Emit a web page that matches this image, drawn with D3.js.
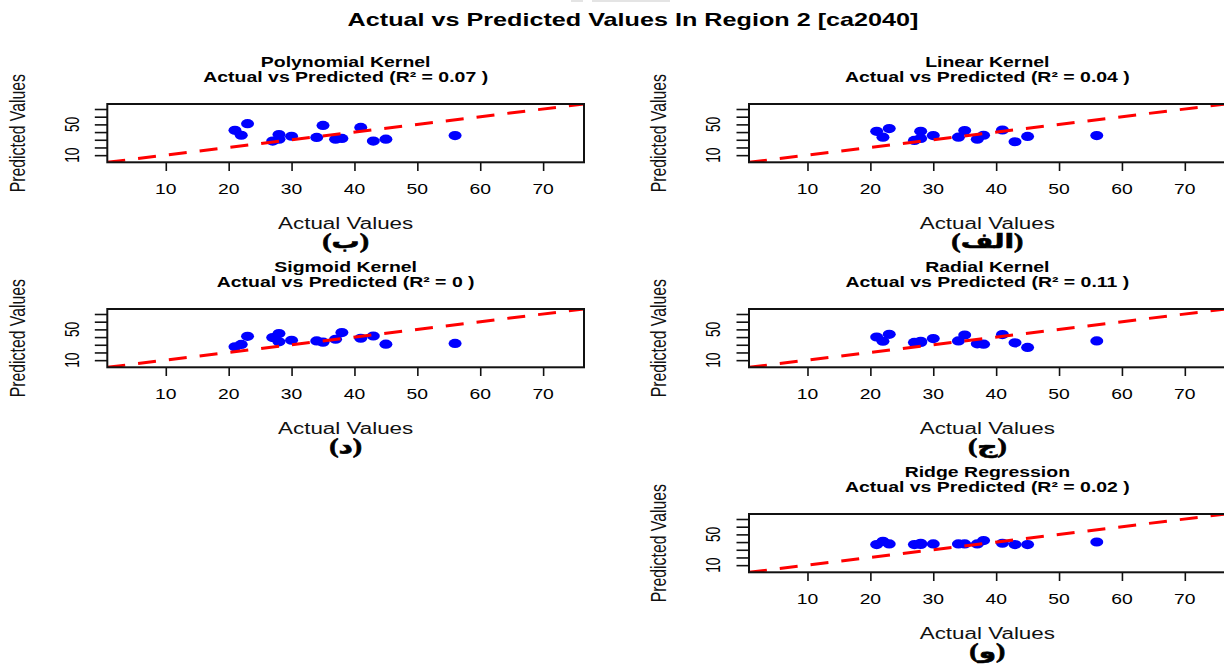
<!DOCTYPE html>
<html>
<head>
<meta charset="utf-8">
<script src="https://cdn.jsdelivr.net/npm/d3@7"></script>
<style>
  html, body { margin: 0; padding: 0; background: #fff; overflow: hidden; }
  svg { display: block; }
</style>
</head>
<body>
<svg id="chart" width="1224" height="665"></svg>
<script>
// ---- data ---------------------------------------------------------------
const mainTitle = "Actual vs Predicted Values In Region 2 [ca2040]";
const actual = [21, 22, 23, 27, 28, 28, 30, 34, 35, 37, 38, 41, 43, 45, 56];

const predPolynomial = [42.3, 35.9, 50.9, 28.3, 36.8, 30.8, 34.6, 33.0, 48.7, 30.8, 31.7, 46.1, 28.3, 30.8, 35.5];
const predLinear     = [41.0, 33.4, 44.5, 29.2, 41.0, 31.7, 35.5, 33.4, 41.9, 30.8, 35.9, 42.7, 27.4, 34.3, 35.5];
const predSigmoid    = [27.4, 30.4, 41.0, 39.4, 44.5, 33.8, 35.9, 35.0, 33.4, 37.2, 45.8, 38.5, 41.4, 30.8, 31.7];
const predRadial     = [40.1, 34.6, 43.6, 33.0, 34.6, 33.0, 38.1, 35.0, 42.7, 31.2, 30.8, 43.2, 32.5, 26.6, 35.0];
const predRidge      = [36.8, 41.0, 37.6, 36.8, 38.5, 37.0, 37.6, 37.6, 37.6, 37.6, 41.9, 38.5, 36.8, 36.8, 40.1];

const modelNames = ["Polynomial Kernel", "Linear Kernel", "Sigmoid Kernel", "Radial Kernel", "Ridge Regression"];
const rSquared   = ["0.07", "0.04", "0", "0.11", "0.02"];
const panelTags  = ["(ب)", "(الف)", "(د)", "(ج)", "(و)"];
const predictions = [predPolynomial, predLinear, predSigmoid, predRadial, predRidge];

const xTicks = [10, 20, 30, 40, 50, 60, 70];
const yTicks = [10, 20, 30, 40, 50, 60, 70];
const yTickLabels = [10, 50];
const axisLimits = [0.7, 76.5];

// ---- layout ---------------------------------------------------------------
const SX = 1.4;                       // horizontal stretch of the whole figure
const FONT = "'Liberation Sans', Arial, Helvetica, sans-serif";
const ARABIC_FONT = "'Liberation Serif', 'DejaVu Sans', serif";
const box = { left: 107.3, top: 104, width: 476.7, height: 58.3, colStep: 641.7, rowStep: 205 };
const gridPos = [[0, 0], [0, 1], [1, 0], [1, 1], [2, 1]];   // [row, col] of each model

const svg = d3.select("#chart");
svg.append("rect").attr("width", 1224).attr("height", 665).attr("fill", "#fff");

// thin grey strip at the very top edge
svg.append("rect").attr("x", 571).attr("y", 0).attr("width", 12).attr("height", 2).attr("fill", "#e4e4e4");
svg.append("rect").attr("x", 592).attr("y", 0).attr("width", 78).attr("height", 2).attr("fill", "#e4e4e4");

function label(g, x, y, str, size, opts = {}) {
  const t = g.append("text")
    .attr("transform", `translate(${x},${y}) scale(${SX},1)` + (opts.rotate ? " rotate(-90)" : ""))
    .attr("text-anchor", "middle")
    .attr("font-family", opts.family || FONT)
    .attr("font-size", size)
    .attr("font-weight", opts.bold ? "bold" : "normal")
    .attr("fill", opts.fill || "#000")
    .text(str);
  if (opts.dy) t.attr("dy", opts.dy);
  if (opts.stroke) t.attr("stroke", opts.fill || "#000").attr("stroke-width", opts.stroke);
  return t;
}

label(svg, 633, 26, mainTitle, 18, { bold: true });

modelNames.forEach((name, i) => {
  const [row, col] = gridPos[i];
  const x0 = box.left + col * box.colStep;
  const y0 = box.top + row * box.rowStep;
  const x1 = x0 + box.width;
  const y1 = y0 + box.height;
  const cx = (x0 + x1) / 2;

  const x = d3.scaleLinear().domain(axisLimits).range([x0, x1]);
  const y = d3.scaleLinear().domain(axisLimits).range([y1, y0]);

  const g = svg.append("g");

  // titles
  label(g, cx, y0 - 37, name, 13.9, { bold: true });
  label(g, cx, y0 - 22, `Actual vs Predicted (R² = ${rSquared[i]} )`, 13.9, { bold: true });

  // axes ticks
  const yAxis = g.append("g").attr("transform", `translate(${x0},0)`)
    .call(d3.axisLeft(y).tickValues(yTicks).tickSize(12.5).tickFormat(""));
  const xAxis = g.append("g").attr("transform", `translate(0,${y1})`)
    .call(d3.axisBottom(x).tickValues(xTicks).tickSize(8.7).tickFormat(""));
  [yAxis, xAxis].forEach(a => {
    a.select(".domain").remove();
    a.selectAll(".tick line").attr("stroke", "#111").attr("stroke-width", 1.6);
  });

  // tick labels
  xTicks.forEach(v => label(g, x(v), y1 + 31.6, String(v), 13.8));
  yTickLabels.forEach(v => label(g, x0 - 35.6, y(v), String(v), 13.8, { rotate: true, dy: "0.36em" }));

  // axis titles
  label(g, cx, y1 + 66.7, "Actual Values", 16, { fill: "#111" });
  label(g, x0 - 90.6, (y0 + y1) / 2, "Predicted Values", 15.8, { rotate: true, dy: "0.36em", fill: "#111" });
  label(g, cx, y1 + 86, panelTags[i], 20, { bold: true, family: ARABIC_FONT, stroke: 0.6 });

  // plotting region
  const clipId = "clip" + i;
  g.append("clipPath").attr("id", clipId)
    .append("rect").attr("x", x0).attr("y", y0).attr("width", box.width).attr("height", box.height);
  const plot = g.append("g").attr("clip-path", `url(#${clipId})`);

  plot.selectAll("ellipse").data(actual.map((a, k) => [a, predictions[i][k]]))
    .join("ellipse")
    .attr("cx", d => x(d[0]))
    .attr("cy", d => y(d[1]))
    .attr("rx", 6.5).attr("ry", 4.6)
    .attr("fill", "#0000ff");

  // identity reference line
  plot.append("line")
    .attr("x1", x(axisLimits[0])).attr("y1", y(axisLimits[0]))
    .attr("x2", x(axisLimits[1])).attr("y2", y(axisLimits[1]))
    .attr("stroke", "#ff0000").attr("stroke-width", 3)
    .attr("stroke-dasharray", "18,13");

  g.append("rect")
    .attr("x", x0).attr("y", y0).attr("width", box.width).attr("height", box.height)
    .attr("fill", "none").attr("stroke", "#111").attr("stroke-width", 2);
});
</script>
</body>
</html>
